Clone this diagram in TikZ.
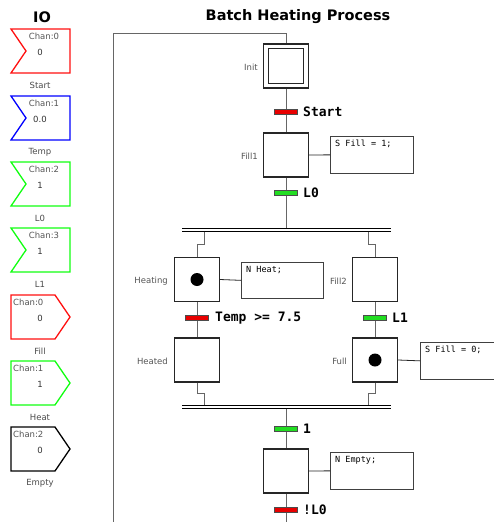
\documentclass[tikz,border=0pt]{standalone}
\usepackage{fontspec}
\setmainfont{DejaVu Sans}
\newfontfamily\monof{DejaVu Sans Mono}
\usetikzlibrary{calc}
\definecolor{txtgray}{HTML}{555555}
\definecolor{linegray}{HTML}{666666}
\definecolor{tred}{HTML}{E80000}
\definecolor{tgreen}{HTML}{22DD22}
\definecolor{iored}{HTML}{FF1010}
\definecolor{ioblue}{HTML}{0000FF}
\definecolor{iogreen}{HTML}{11FF11}
\begin{document}
\begin{tikzpicture}[x=1pt,y=-1pt,
  stepbox/.style={draw=black!85, line width=1.2pt, fill=white, minimum width=45pt, minimum height=44pt, inner sep=0pt},
  innerbox/.style={draw=black!85, line width=1.1pt, minimum width=35pt, minimum height=35pt, inner sep=0pt},
  steplabel/.style={anchor=east, font=\fontsize{8.5}{10}\selectfont, text=txtgray, inner sep=0pt},
  actbox/.style={draw=black!75, line width=0.7pt, anchor=north west, minimum width=83pt, minimum height=37pt, inner sep=0pt},
  acttext/.style={anchor=north west, font=\monof\fontsize{8.5}{10}\selectfont, inner sep=0pt},
  tbar/.style={draw=black!70, line width=0.8pt, minimum width=23pt, minimum height=5pt, inner sep=0pt},
  tlabel/.style={anchor=west, font=\monof\bfseries\fontsize{13}{15}\selectfont, inner sep=0pt},
  conn/.style={draw=linegray, line width=0.9pt},
  sync/.style={draw=black, line width=0.9pt},
  iobox/.style={line width=1.3pt, line join=miter},
  iochan/.style={font=\fontsize{8.5}{10}\selectfont, text=txtgray, inner sep=0pt},
  ioval/.style={font=\fontsize{8.5}{10}\selectfont, text=black!80, inner sep=0pt},
  iolabel/.style={font=\fontsize{8.5}{10}\selectfont, text=black!70, inner sep=0pt},
  title/.style={font=\bfseries\fontsize{14.5}{17}\selectfont, inner sep=0pt},
  dot/.style={circle, fill=black, minimum size=13pt, inner sep=0pt}
]
\useasboundingbox (0,0) rectangle (494,522);
\fill[white] (0,0) rectangle (494,522);

% ---------- IO column ----------
\node[title] (iot) at (42,17) {IO};
% inputs
\foreach \t/\c/\ch/\v/\lab [count=\i] in {29/iored/0/0/Start, 96/ioblue/1/0.0/Temp, 162/iogreen/2/1/L0, 228/iogreen/3/1/L1}{
  \draw[iobox, draw=\c] (11,\t) -- (70,\t) -- (70,\t+44) -- (11,\t+44) -- (26,\t+22) -- cycle;
  \node[iochan] (inch\i) at (44,\t+7) {Chan:\ch};
  \node[ioval] (inval\i) at (40,\t+23) {\v};
  \node[iolabel] (inlab\i) at (40,\t+56) {\lab};
}
% outputs
\foreach \t/\c/\ch/\v/\lab [count=\i] in {295/iored/0/0/Fill, 361/iogreen/1/1/Heat, 427/black/2/0/Empty}{
  \draw[iobox, draw=\c] (11,\t) -- (55,\t) -- (70,\t+22) -- (55,\t+44) -- (11,\t+44) -- cycle;
  \node[iochan, anchor=west] (outch\i) at (13,\t+7) {Chan:\ch};
  \node[ioval] (outval\i) at (40,\t+23) {\v};
  \node[iolabel] (outlab\i) at (40,\t+56) {\lab};
}

% ---------- Chart ----------
\node[title] (ttl) at (298,17) {Batch Heating Process};

% steps
\node[stepbox] (init) at (286,66) {};
\node[innerbox] (initin) at (286,66) {};
\node[stepbox] (fill1) at (286,155) {};
\node[stepbox] (heating) at (197,279.5) {};
\node[stepbox] (heated) at (197,360) {};
\node[stepbox] (fill2) at (375,279.5) {};
\node[stepbox] (full) at (375,360) {};
\node[stepbox] (empty) at (286,471) {};
\node[dot] (dh) at (heating) {};
\node[dot] (df) at (full) {};

% step labels
\node[steplabel] (linit) at (258,67) {Init};
\node[steplabel] (lfill1) at (258,156) {Fill1};
\node[steplabel] (lheating) at (168,281) {Heating};
\node[steplabel] (lheated) at (168,361) {Heated};
\node[steplabel] (lfill2) at (347,281) {Fill2};
\node[steplabel] (lfull) at (347,361) {Full};

% transitions
\node[tbar, fill=tred] (tstart) at (286,112) {};
\node[tlabel] (ltstart) at (303,112) {Start};
\node[tbar, fill=tgreen] (tl0) at (286,193) {};
\node[tlabel] (ltl0) at (303,193) {L0};
\node[tbar, fill=tred] (ttemp) at (197,318) {};
\node[tlabel] (lttemp) at (215,318) {Temp >= 7.5};
\node[tbar, fill=tgreen] (tl1) at (375,318) {};
\node[tlabel] (ltl1) at (392,318) {L1};
\node[tbar, fill=tgreen] (tone) at (286,429) {};
\node[tlabel] (ltone) at (303,429) {1};
\node[tbar, fill=tred] (tnl0) at (286,510) {};
\node[tlabel] (ltnl0) at (303,510) {!L0};

% action boxes
\node[actbox] (afill1) at (330,136) {};
\node[acttext] (tafill1) at (335,140) {S Fill = 1;};
\node[actbox, minimum width=82pt, minimum height=36pt] (aheat) at (241,262) {};
\node[acttext] (taheat) at (246,266) {N Heat;};
\node[actbox] (afull) at (420,342) {};
\node[acttext] (tafull) at (425,346) {S Fill = 0;};
\node[actbox] (aempty) at (330,452) {};
\node[acttext] (taempty) at (335,456) {N Empty;};

% sync bars
\coordinate (s1a) at (182,228); \coordinate (s1b) at (391,228);
\coordinate (s1c) at (182,231.5); \coordinate (s1d) at (391,231.5);
\coordinate (s2a) at (182,405); \coordinate (s2b) at (391,405);
\coordinate (s2c) at (182,408.5); \coordinate (s2d) at (391,408.5);
\draw[sync] (s1a) -- (s1b);
\draw[sync] (s1c) -- (s1d);
\draw[sync] (s2a) -- (s2b);
\draw[sync] (s2c) -- (s2d);

% loop line
\coordinate (lp1) at (286,33);
\coordinate (lp2) at (113,33);
\coordinate (lp3) at (113,522);
\draw[conn] (init.north) -- (lp1) -- (lp2) -- (lp3);

% connectors
\draw[conn] (init.south) -- (tstart) -- (fill1.north);
\draw[conn] (fill1.south) -- (tl0) -- (286,228);
\coordinate (jl1) at (204,231.5);
\coordinate (jr1) at (368,231.5);
\draw[conn] (jl1) -- (204,244) -- (197,244) -- (heating.north);
\draw[conn] (jr1) -- (368,244) -- (375,244) -- (fill2.north);
\draw[conn] (heating.south) -- (ttemp) -- (heated.north);
\draw[conn] (fill2.south) -- (tl1) -- (full.north);
\coordinate (jl2) at (204,405);
\coordinate (jr2) at (368,405);
\draw[conn] (heated.south) -- (197,393) -- (204,393) -- (jl2);
\draw[conn] (full.south) -- (375,393) -- (368,393) -- (jr2);
\coordinate (s2m) at (286,408.5);
\draw[conn] (s2m) -- (tone) -- (empty.north);
\coordinate (bot) at (286,522);
\draw[conn] (empty.south) -- (tnl0) -- (bot);

% step to action
\draw[black!85, line width=0.8pt] (fill1.east) -- (afill1.west);
\draw[black!85, line width=0.8pt] (heating.east) -- (aheat.west);
\draw[black!85, line width=0.8pt] (full.east) -- (afull.west);
\draw[black!85, line width=0.8pt] (empty.east) -- (aempty.west);

% redraw transition bars on top
\node[tbar, fill=tred] at (tstart) {};
\node[tbar, fill=tgreen] at (tl0) {};
\node[tbar, fill=tred] at (ttemp) {};
\node[tbar, fill=tgreen] at (tl1) {};
\node[tbar, fill=tgreen] at (tone) {};
\node[tbar, fill=tred] at (tnl0) {};
\end{tikzpicture}
\end{document}
